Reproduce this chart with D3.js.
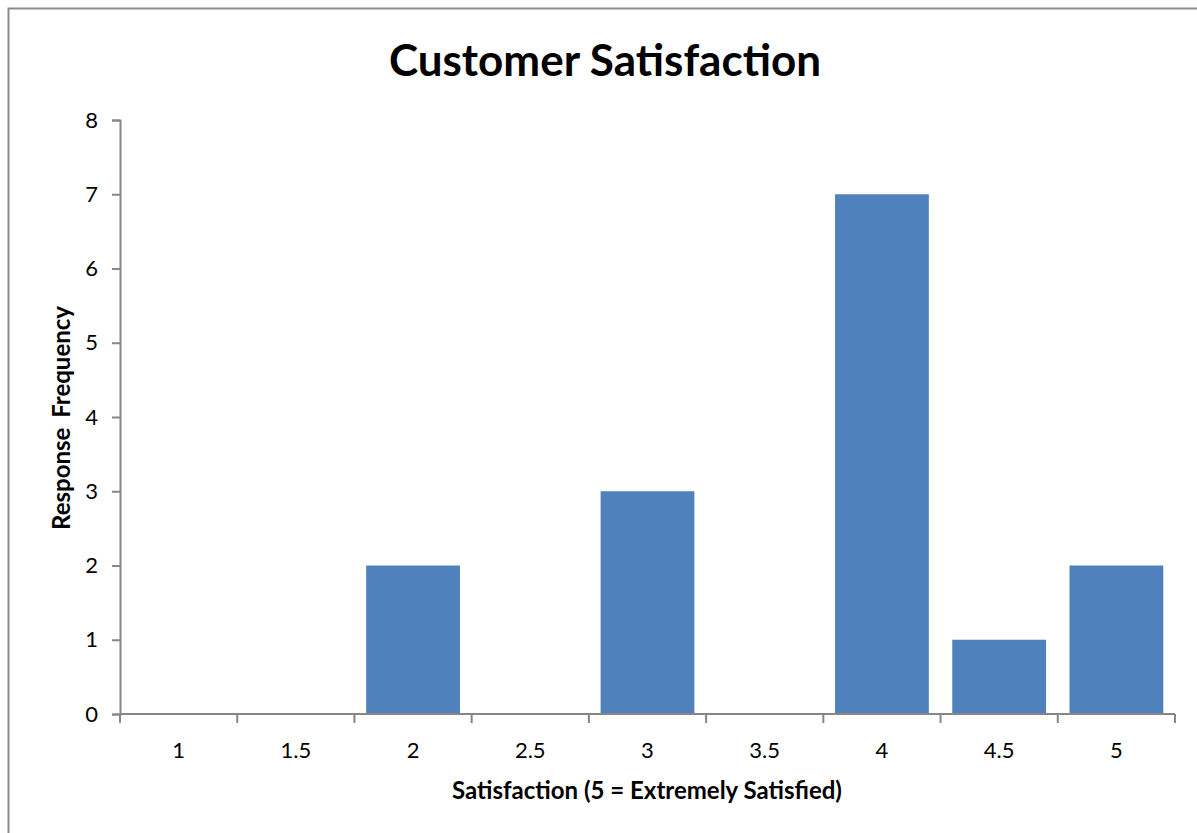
<!DOCTYPE html>
<html>
<head>
<meta charset="utf-8">
<script src="https://cdn.jsdelivr.net/npm/d3@7"></script>
<style>
  body { margin: 0; background: #fff; }
  text { font-family: Lato, "Open Sans", sans-serif; }
</style>
</head>
<body>
<script>
// chart values
var categories = ['1', '1.5', '2', '2.5', '3', '3.5', '4', '4.5', '5'];
var frequency = [0, 0, 2, 0, 3, 0, 7, 1, 2];
var yTicks = [0, 1, 2, 3, 4, 5, 6, 7, 8];

var W = 1197, H = 833;
var margin = { top: 120, right: 22, bottom: 119, left: 120 };
var width = W - margin.left - margin.right,
    height = H - margin.top - margin.bottom;

var svg = d3.select('body').append('svg')
    .attr('width', W)
    .attr('height', H);

// chart border
svg.append('rect')
    .attr('x', 8.5).attr('y', 8.5)
    .attr('width', W + 10).attr('height', H + 10)
    .attr('fill', 'none')
    .attr('stroke', '#8c8c8c')
    .attr('stroke-width', 2);

var g = svg.append('g')
    .attr('transform', 'translate(' + margin.left + ',' + margin.top + ')');

var x = d3.scaleBand()
    .domain(categories)
    .range([0, width])
    .paddingInner(0.2)
    .paddingOuter(0.1);

var y = d3.scaleLinear()
    .domain([0, 8])
    .range([height, 0]);

var axisColor = '#868686';

// bars
g.selectAll('rect.bar')
    .data(frequency)
    .enter()
    .append('rect')
    .attr('class', 'bar')
    .attr('x', function(d, i) { return x(categories[i]); })
    .attr('y', function(d) { return y(d); })
    .attr('width', x.bandwidth())
    .attr('height', function(d) { return height - y(d); })
    .attr('fill', '#4F81BD');

// y axis
var yAxis = g.append('g')
    .call(d3.axisLeft(y).tickValues(yTicks).tickSize(8).tickPadding(14).tickFormat(d3.format('d')));
yAxis.select('.domain').attr('stroke', axisColor).attr('stroke-width', 2);
yAxis.selectAll('.tick line').attr('stroke', axisColor).attr('stroke-width', 2);
yAxis.selectAll('.tick text')
    .attr('fill', '#000')
    .style('font-size', '22px');

// x axis: line + ticks at band boundaries
var xAxis = g.append('g').attr('transform', 'translate(0,' + height + ')');
xAxis.append('line')
    .attr('x1', 0).attr('x2', width)
    .attr('stroke', axisColor).attr('stroke-width', 2);
var step = x.step();
var bounds = d3.range(categories.length + 1).map(function(i) {
    return i === categories.length ? width : x(categories[i]) - x.paddingOuter() * step;
});
xAxis.selectAll('line.tk')
    .data(bounds)
    .enter()
    .append('line')
    .attr('class', 'tk')
    .attr('x1', function(d) { return d; })
    .attr('x2', function(d) { return d; })
    .attr('y1', 0).attr('y2', 9)
    .attr('stroke', axisColor).attr('stroke-width', 2);
xAxis.selectAll('text')
    .data(categories)
    .enter()
    .append('text')
    .attr('x', function(d) { return x(d) + x.bandwidth() / 2; })
    .attr('y', 44)
    .attr('text-anchor', 'middle')
    .style('font-size', '22px')
    .text(function(d) { return d; });

// titles
svg.append('text')
    .attr('x', 605).attr('y', 76)
    .attr('text-anchor', 'middle')
    .style('font-size', '44px')
    .style('font-weight', 'bold')
    .text('Customer Satisfaction');

svg.append('text')
    .attr('x', 647).attr('y', 799)
    .attr('text-anchor', 'middle')
    .style('font-size', '24px')
    .style('font-weight', 'bold')
    .text('Satisfaction (5 = Extremely Satisfied)');

svg.append('text')
    .attr('transform', 'translate(70,418) rotate(-90)')
    .attr('text-anchor', 'middle')
    .style('font-size', '24px')
    .style('font-weight', 'bold')
    .style('word-spacing', '4px')
    .text('Response Frequency');
</script>
</body>
</html>
